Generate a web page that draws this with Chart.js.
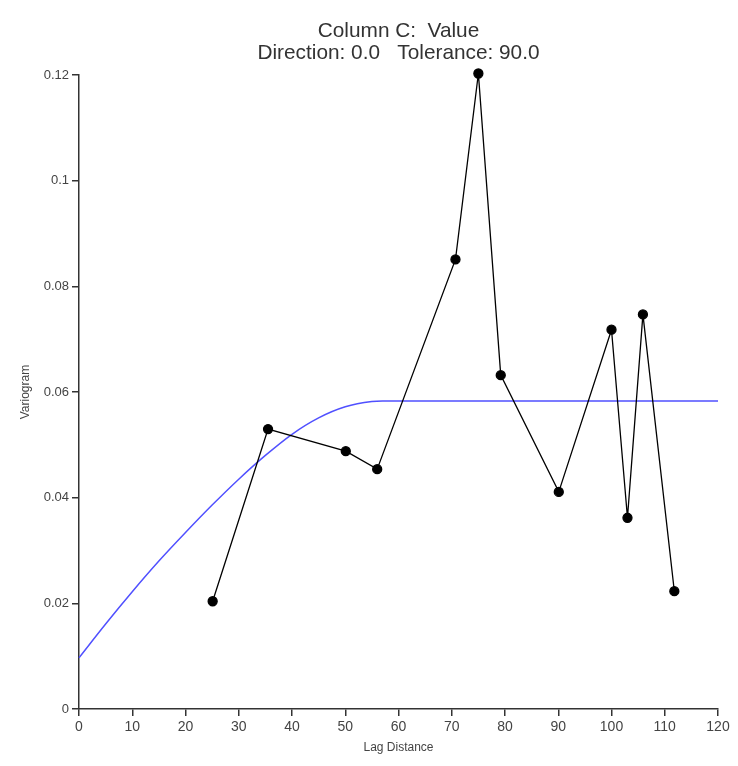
<!DOCTYPE html>
<html>
<head>
<meta charset="utf-8">
<script src="https://cdn.jsdelivr.net/npm/chart.js@4"></script>
<style>
  html, body { margin: 0; padding: 0; background: #fff; }
  #wrap { width: 738px; height: 766px; }
</style>
</head>
<body>
<div id="wrap"><canvas id="grafikVariogram" width="738" height="766"></canvas></div>
<script>
// experimental variogram points
const lagDistance = [25.1, 35.5, 50.1, 56.0, 70.7, 75.0, 79.2, 90.1, 100.0, 103.0, 105.9, 111.8];
const variogram = [0.0204, 0.0530, 0.0488, 0.0454, 0.0851, 0.1203, 0.0632, 0.0411, 0.0718, 0.0362, 0.0747, 0.0223];

// fitted model curve
const modelLag = [0, 5, 10, 15, 20, 25, 30, 35, 40, 45, 50, 55, 57, 120];
const modelValue = [0.0097, 0.0161, 0.0222, 0.0280, 0.0334, 0.0386, 0.0435, 0.0480, 0.0520, 0.0551, 0.0572, 0.0582, 0.0583, 0.0583];

const xTicks = [0, 10, 20, 30, 40, 50, 60, 70, 80, 90, 100, 110, 120];
const yTicks = [0, 0.02, 0.04, 0.06, 0.08, 0.1, 0.12];
const yTickLabels = ['0', '0.02', '0.04', '0.06', '0.08', '0.1', '0.12'];

const axisColor = '#333';
const textColor = '#444';
const fontFamily = '"Liberation Sans", Arial, sans-serif';

const ctx = document.getElementById('grafikVariogram').getContext('2d');
const chart = new Chart(ctx, {
    type: 'scatter',
    data: {
        datasets: [{
            label: 'Model',
            data: modelLag.map((x, i) => ({ x: x, y: modelValue[i] })),
            showLine: true,
            borderColor: '#5050ff',
            borderWidth: 1.5,
            pointRadius: 0,
            cubicInterpolationMode: 'monotone',
            clip: false,
            order: 2
        }, {
            label: 'Variogram',
            data: lagDistance.map((x, i) => ({ x: x, y: variogram[i] })),
            showLine: true,
            borderColor: '#000',
            backgroundColor: '#000',
            borderWidth: 1.3,
            pointRadius: 4.5,
            pointBackgroundColor: '#000',
            clip: false,
            order: 1
        }]
    },
    options: {
        responsive: false,
        animation: false,
        events: [],
        layout: {
            padding: { top: 0, right: 20, bottom: 0, left: 0 }
        },
        plugins: {
            legend: { display: false },
            tooltip: { enabled: false },
            title: {
                display: true,
                fullSize: false,
                text: ['Column C:  Value', 'Direction: 0.0   Tolerance: 90.0'],
                color: '#333',
                font: { family: fontFamily, size: 20.8, weight: 'normal', lineHeight: 1.06 },
                padding: { top: 20, bottom: 11 }
            }
        },
        scales: {
            x: {
                type: 'linear',
                min: 0,
                max: 120,
                afterFit: (scale) => { scale.height = 57; },
                afterBuildTicks: (scale) => { scale.ticks = xTicks.map(v => ({ value: v })); },
                grid: { display: true, drawOnChartArea: false, drawTicks: true, tickLength: 7, color: axisColor, lineWidth: 1.5 },
                border: { display: true, color: axisColor, width: 1.5 },
                ticks: {
                    color: textColor,
                    padding: 3,
                    maxRotation: 0,
                    font: { family: fontFamily, size: 14 },
                    callback: (v) => String(v)
                },
                title: {
                    display: true,
                    text: 'Lag Distance',
                    color: textColor,
                    font: { family: fontFamily, size: 12 },
                    padding: { top: 0, bottom: 11 }
                }
            },
            y: {
                type: 'linear',
                min: 0,
                max: 0.12,
                afterFit: (scale) => { scale.width = 79; },
                afterBuildTicks: (scale) => { scale.ticks = yTicks.map(v => ({ value: v })); },
                grid: { display: true, drawOnChartArea: false, drawTicks: true, tickLength: 7, color: axisColor, lineWidth: 1.5 },
                border: { display: true, color: axisColor, width: 1.5 },
                ticks: {
                    color: textColor,
                    padding: 3,
                    font: { family: fontFamily, size: 13 },
                    callback: (v, i) => yTickLabels[i]
                },
                title: {
                    display: true,
                    text: 'Variogram',
                    color: textColor,
                    font: { family: fontFamily, size: 12 },
                    padding: { top: 18, bottom: 0 }
                }
            }
        }
    }
});
</script>
</body>
</html>
